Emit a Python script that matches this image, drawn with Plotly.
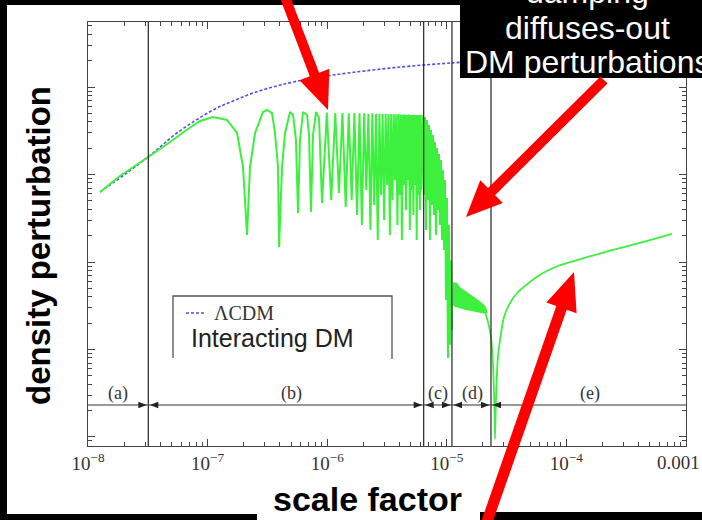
import math
import plotly.graph_objects as go

# ---------------- data ----------------
# Lambda-CDM reference curve
lcdm_a = [1.26e-8, 3.18e-8, 5.54e-8, 1.11e-7, 1.631e-7, 2.40e-7, 3.52e-7, 5.18e-7,
          1.12e-6, 4.06e-6, 1.08e-5, 1.90e-5]
lcdm_d = [631, 1585, 2980, 5460, 6920, 8540, 10000, 11400,
          13700, 16900, 18800, 19800]

# Interacting DM: growth + first (wide) acoustic oscillations
early_a = [1.26e-8, 1.85e-8, 3.18e-8, 4.85e-8, 6.47e-8, 8.64e-8, 1.11e-7, 1.453e-7, 1.762e-7, 1.977e-7, 2.135e-7,
           2.262e-7, 2.491e-7, 2.905e-7, 3.138e-7, 3.455e-7, 3.66e-7, 3.877e-7, 3.954e-7,
           4.19e-7, 4.44e-7, 4.89e-7, 5.18e-7, 5.48e-7, 5.70e-7,
           5.92e-7, 6.28e-7, 6.78e-7, 7.04e-7, 7.32e-7,
           7.61e-7, 8.06e-7, 8.54e-7, 9.05e-7]
early_d = [631, 961, 1585, 2350, 3140, 4090, 4540, 4200, 2980, 1218, 204,
           1218, 2980, 5180, 5460, 5040, 2980, 1218, 148,
           1218, 2980, 5180, 4790, 2480, 363,
           2480, 5180, 4790, 2830, 373,
           2830, 5180, 4420, 472]

# dense oscillations in region (b): crests and troughs
dense_peak_a = [9.93e-7, 1.167e-6, 1.341e-6, 1.515e-6, 1.689e-6, 1.863e-6, 2.037e-6, 2.211e-6,
                2.385e-6, 2.559e-6, 2.733e-6, 2.907e-6, 3.081e-6, 3.255e-6, 3.429e-6, 3.603e-6,
                3.777e-6, 3.951e-6, 4.125e-6, 4.299e-6, 4.473e-6, 4.647e-6, 4.821e-6, 4.995e-6,
                5.169e-6, 5.343e-6, 5.517e-6, 5.691e-6, 5.865e-6, 6.039e-6]
dense_peak_d = [5100, 5050, 5050, 5000, 5050, 5000, 5000, 4950, 5000, 4950, 4950, 4900,
                4950, 4900, 4900, 4900, 4850, 4900, 4850, 4850, 4850, 4800, 4850, 4800,
                4800, 4800, 4800, 4800, 4800, 4790]
dense_dip_a = [1.080e-6, 1.254e-6, 1.428e-6, 1.602e-6, 1.776e-6, 1.950e-6, 2.124e-6, 2.298e-6,
               2.472e-6, 2.646e-6, 2.820e-6, 2.994e-6, 3.168e-6, 3.342e-6, 3.516e-6, 3.690e-6,
               3.864e-6, 4.038e-6, 4.212e-6, 4.386e-6, 4.560e-6, 4.734e-6, 4.908e-6, 5.082e-6,
               5.256e-6, 5.430e-6, 5.604e-6, 5.778e-6, 5.952e-6, 6.126e-6]
dense_dip_d = [511, 615, 425, 511, 344, 265, 665, 232, 448, 178, 583, 302, 759, 204, 511,
               865, 265, 583, 178, 759, 393, 865, 232, 665, 344, 759, 178, 583, 393, 665]

# region (c): damping of the oscillations
damp_a = [6.32e-6, 6.45e-6, 6.57e-6, 6.70e-6, 6.83e-6, 6.96e-6, 7.10e-6, 7.24e-6, 7.38e-6, 7.52e-6,
          7.66e-6, 7.82e-6, 7.97e-6, 8.12e-6, 8.28e-6, 8.44e-6, 8.61e-6, 8.77e-6, 8.94e-6, 9.12e-6,
          9.29e-6, 9.48e-6, 9.66e-6, 9.85e-6, 1.004e-5, 1.023e-5, 1.043e-5, 1.064e-5, 1.084e-5, 1.105e-5]
damp_d = [4790, 583, 4540, 232, 4200, 511, 3680, 178, 3230, 448,
          2830, 344, 2350, 204, 2010, 393, 1715, 265, 1465, 178,
          1125, 137, 865, 36.8, 539, 8.0, 265, 11.3, 105, 16.7]

# region (d): small residual oscillation band
band_top_a = [1.127e-5, 1.20e-5, 1.289e-5, 1.563e-5, 1.895e-5, 2.086e-5, 2.168e-5]
band_top_d = [57.5, 57.0, 50.4, 42.0, 34.9, 30.6, 26.8]
band_bot_a = [2.086e-5, 1.721e-5, 1.42e-5, 1.171e-5, 1.127e-5]
band_bot_d = [26.1, 27.5, 29.0, 31.4, 33.1]

# regions (d)-(e): zero crossing and late growth
late_a = [2.086e-5, 2.21e-5, 2.342e-5, 2.434e-5, 2.505e-5, 2.529e-5, 2.578e-5, 2.665e-5, 2.785e-5,
          3.008e-5, 3.376e-5, 3.94e-5, 5.79e-5, 8.51e-5, 1.157e-4, 1.909e-4, 2.807e-4, 5.0e-4, 7.64e-4]
late_d = [26.8, 20.6, 13.9, 6.65, 2.04, 0.95, 2.65, 7.6, 12.8,
          23.5, 34, 45.4, 69.2, 90, 102.6, 125, 144.5, 178, 209]

# region boundaries and labels
boundary_a = [3.19e-8, 6.41e-6, 1.105e-5, 2.342e-5]
region_labels = ["(a)", "(b)", "(c)", "(d)", "(e)"]
region_label_a = [1.78e-8, 4.98e-7, 8.44e-6, 1.625e-5, 1.575e-4]
region_label_d = 3.18
region_line_d = 2.32

x_tick_vals = [1e-8, 1e-7, 1e-6, 1e-5, 1e-4, 1e-3]
x_tick_text = ["10<sup>\u22128</sup>", "10<sup>\u22127</sup>", "10<sup>\u22126</sup>",
               "10<sup>\u22125</sup>", "10<sup>\u22124</sup>", ""]
last_tick_label = "0.001"
y_tick_vals = [1, 10, 100, 1000, 10000]

# ---------------- layout geometry ----------------
W, H = 702, 520
X0, X1, Y0, Y1 = 88, 686, 22, 446
LOGX = (-8.0005, -2.9995)
LOGY = (-0.103, 4.743)


def fx(px):
    return (px - X0) / (X1 - X0)


def fy(py):
    return (Y1 - py) / (Y1 - Y0)


def xpix(a):
    return X0 + (X1 - X0) * (math.log10(a) - LOGX[0]) / (LOGX[1] - LOGX[0])


def ypix(d):
    return Y1 - (Y1 - Y0) * (math.log10(d) - LOGY[0]) / (LOGY[1] - LOGY[0])


def poly_path(pts):
    return "M " + " L ".join(f"{fx(x):.5f},{fy(y):.5f}" for x, y in pts) + " Z"


def arrow_path(tail, tip, w, L, Hh):
    tx, ty = tail
    px_, py_ = tip
    dx, dy = px_ - tx, py_ - ty
    n = math.hypot(dx, dy)
    ux, uy = dx / n, dy / n
    nx, ny = -uy, ux
    bx, by = px_ - L * ux, py_ - L * uy
    pts = [(tx + w * nx, ty + w * ny), (bx + w * nx, by + w * ny), (bx + Hh * nx, by + Hh * ny),
           (px_, py_), (bx - Hh * nx, by - Hh * ny), (bx - w * nx, by - w * ny),
           (tx - w * nx, ty - w * ny)]
    return poly_path(pts)


GREEN = "#3df03d"
BLUE = "#5050e6"
AX = "#444444"

fig = go.Figure()

# LCDM
fig.add_trace(go.Scatter(x=lcdm_a, y=lcdm_d, mode="lines", line_shape="spline",
                         line=dict(color=BLUE, width=1.6, dash="3px,2px"), hoverinfo="skip"))

# interacting DM main line
main_a, main_d = list(early_a), list(early_d)
for i in range(len(dense_dip_a)):
    main_a += [dense_peak_a[i], dense_dip_a[i]]
    main_d += [dense_peak_d[i], dense_dip_d[i]]
main_a += damp_a
main_d += damp_d
fig.add_trace(go.Scatter(x=main_a, y=main_d, mode="lines",
                         line=dict(color=GREEN, width=2.0, simplify=False), hoverinfo="skip"))

# residual band
fig.add_trace(go.Scatter(x=band_top_a + band_bot_a, y=band_top_d + band_bot_d, mode="lines",
                         fill="toself", fillcolor=GREEN,
                         line=dict(color=GREEN, width=1.5), hoverinfo="skip"))

# late evolution
fig.add_trace(go.Scatter(x=late_a, y=late_d, mode="lines", line_shape="spline",
                         line=dict(color=GREEN, width=1.8, simplify=False, smoothing=0.6),
                         hoverinfo="skip"))

# region boundary lines
vx, vy = [], []
for a in boundary_a:
    vx += [a, a, None]
    vy += [0.5, 1e5, None]
fig.add_trace(go.Scatter(x=vx, y=vy, mode="lines", line=dict(color="#222222", width=1.2),
                         hoverinfo="skip"))

# horizontal region line
fig.add_trace(go.Scatter(x=[1e-8, 1e-3], y=[region_line_d, region_line_d], mode="lines",
                         line=dict(color="#333333", width=1.2), hoverinfo="skip"))

shapes = []
# arrowheads on the region line
yl = ypix(region_line_d)
for a in boundary_a:
    bxp = xpix(a)
    shapes.append(dict(type="path", xref="paper", yref="paper",
                       path=poly_path([(bxp - 1.5, yl), (bxp - 10, yl - 3.2), (bxp - 10, yl + 3.2)]),
                       fillcolor="#222", line=dict(width=0), layer="above"))
    shapes.append(dict(type="path", xref="paper", yref="paper",
                       path=poly_path([(bxp + 1.5, yl), (bxp + 10, yl - 3.2), (bxp + 10, yl + 3.2)]),
                       fillcolor="#222", line=dict(width=0), layer="above"))

# legend frame
shapes.append(dict(type="path", xref="paper", yref="paper",
                   path=f"M {fx(173):.5f},{fy(358):.5f} L {fx(173):.5f},{fy(296):.5f} "
                        f"L {fx(392):.5f},{fy(296):.5f} L {fx(392):.5f},{fy(359):.5f}",
                   line=dict(color="#555", width=1.3), layer="above"))
shapes.append(dict(type="line", xref="paper", yref="paper", x0=fx(186), x1=fx(206), y0=fy(313), y1=fy(313),
                   line=dict(color=BLUE, width=1.5, dash="3px,2px"), layer="above"))

# black slide elements
for (xa, ya, xb, yb) in [(0, 0, 460, 5), (0, 0, 7, 520), (0, 514, 257, 520), (480, 512, 702, 520),
                         (460, 0, 702, 78)]:
    shapes.append(dict(type="rect", xref="paper", yref="paper", x0=fx(xa), x1=fx(xb),
                       y0=fy(yb), y1=fy(ya), fillcolor="black", line=dict(width=0), layer="above"))

# red arrows
for tail, tip, w, L, Hh in [((283, -8), (328, 110), 5.0, 38, 16),
                            ((604, 80), (466, 217), 5.0, 36, 16),
                            ((484, 530), (574, 272), 5.5, 38, 16)]:
    shapes.append(dict(type="path", xref="paper", yref="paper", path=arrow_path(tail, tip, w, L, Hh),
                       fillcolor="#ff0000", line=dict(width=0), layer="above"))

annotations = []


def ann(text, x, y, size, color="black", family="Liberation Sans", xanchor="center", angle=0):
    annotations.append(dict(text=text, x=fx(x), y=fy(y), xref="paper", yref="paper", showarrow=False,
                            xanchor=xanchor, yanchor="middle", textangle=angle,
                            font=dict(size=size, color=color, family=family)))


ann("<b>density perturbation</b>", 38, 246, 33, angle=-90)
ann("<b>scale factor</b>", 367, 499, 34)
ann("damping", 587, -8, 32, color="white")
ann("diffuses-out", 587, 28, 32, color="white")
ann("DM perturbations", 587, 62, 32, color="white")
ann("\u039bCDM", 212, 313, 20, color="#333", family="Liberation Serif", xanchor="left")
ann("Interacting DM", 189, 338, 25, color="#222", xanchor="left")
ann(last_tick_label, 678, 463, 19, color="#333", family="Liberation Serif")

for lab, a in zip(region_labels, region_label_a):
    annotations.append(dict(text=lab, x=math.log10(a), y=math.log10(region_label_d), xref="x", yref="y",
                            showarrow=False, xanchor="center", yanchor="middle",
                            font=dict(size=18, color="#333", family="Liberation Serif")))

minor_x = [m * 10.0 ** e for e in range(-8, -3) for m in range(2, 10)]
minor_y = [m * 10.0 ** e for e in range(-1, 5) for m in range(2, 10)]

fig.update_layout(
    width=W, height=H,
    margin=dict(l=X0, r=W - X1, t=Y0, b=H - Y1),
    paper_bgcolor="white", plot_bgcolor="white", showlegend=False,
    shapes=shapes, annotations=annotations,
    xaxis=dict(type="log", range=list(LOGX), tickvals=x_tick_vals, ticktext=x_tick_text,
               ticks="inside", ticklen=7, tickwidth=1.2, tickcolor=AX,
               showline=True, linecolor=AX, linewidth=1.4, mirror="ticks",
               showgrid=False, zeroline=False, ticklabeloverflow="allow",
               tickfont=dict(family="Liberation Serif", size=19, color="#333"),
               minor=dict(tickvals=minor_x, ticks="inside", ticklen=4, tickcolor=AX, showgrid=False)),
    yaxis=dict(type="log", range=list(LOGY), tickvals=y_tick_vals, showticklabels=False,
               ticks="inside", ticklen=7, tickwidth=1.2, tickcolor=AX,
               showline=True, linecolor=AX, linewidth=1.4, mirror="ticks",
               showgrid=False, zeroline=False,
               minor=dict(tickvals=minor_y, ticks="inside", ticklen=4, tickcolor=AX, showgrid=False)),
)

fig.write_html("out.html", config={"displayModeBar": False},
               post_script="document.body.style.margin='0px';document.body.style.overflow='hidden';")
